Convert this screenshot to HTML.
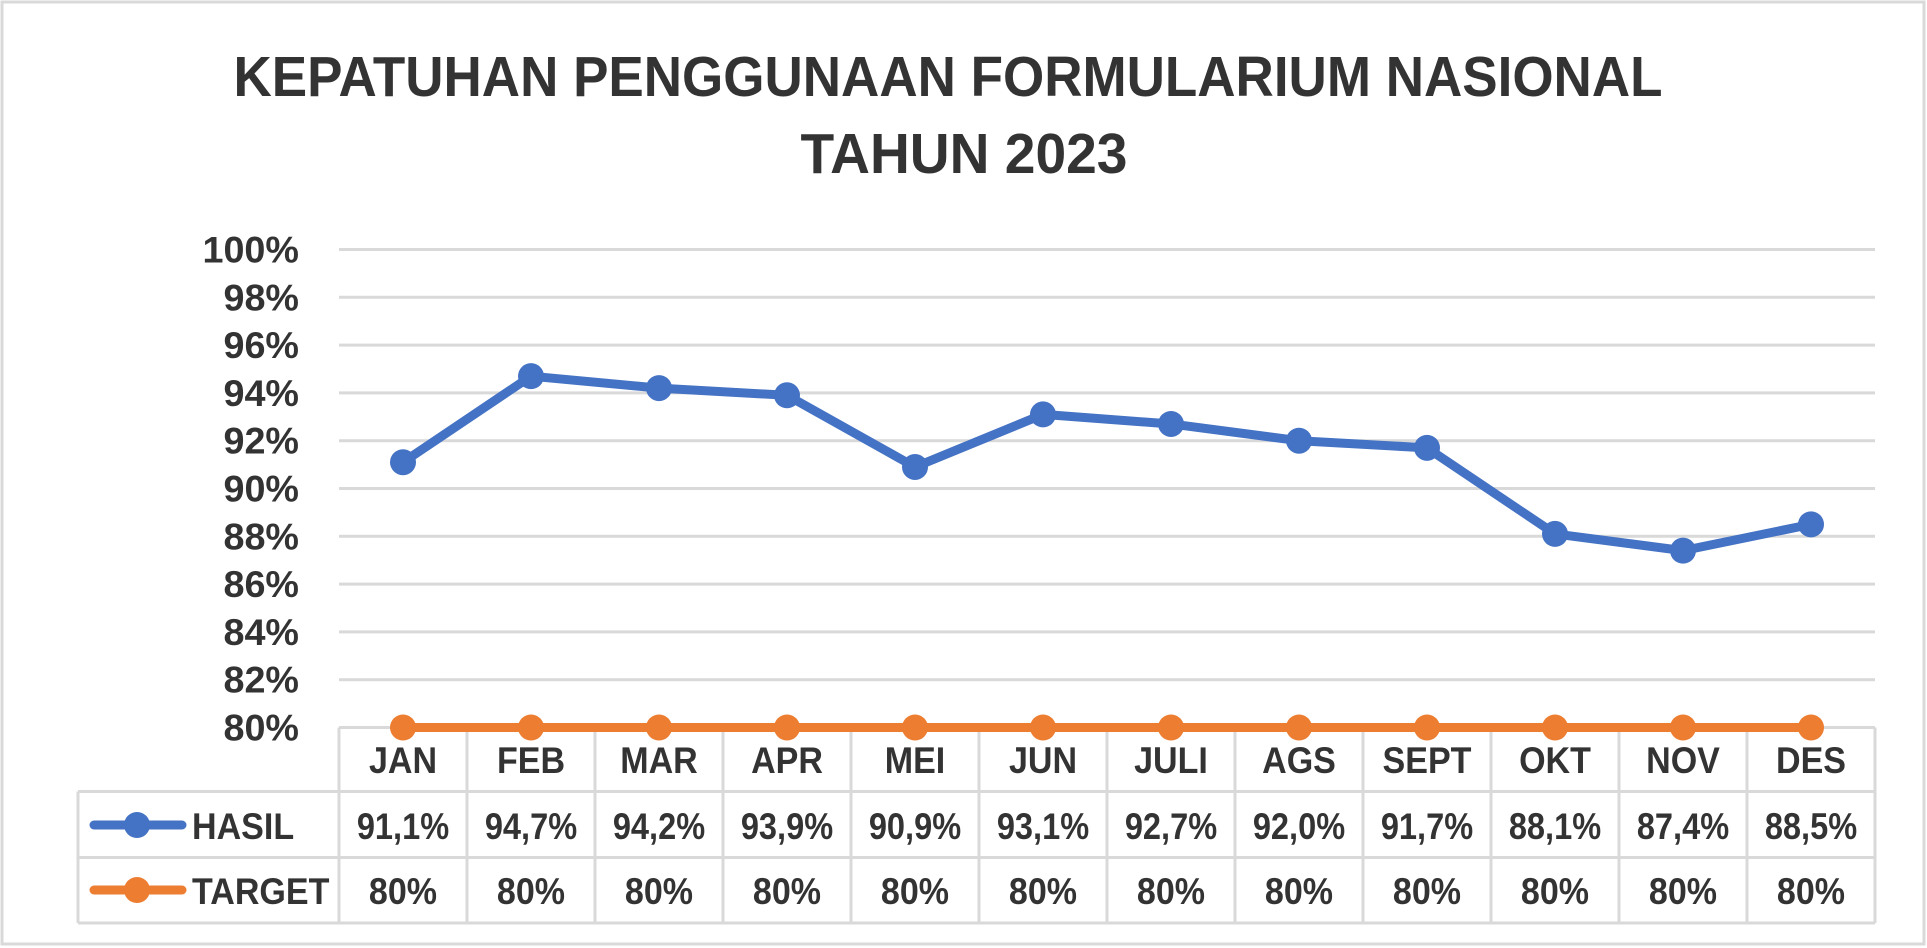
<!DOCTYPE html>
<html><head><meta charset="utf-8"><style>
html,body{margin:0;padding:0;background:#fff;}
svg{display:block;font-family:"Liberation Sans",sans-serif;font-weight:bold;}
</style></head><body>
<svg id="chart" width="1927" height="948" viewBox="0 0 1927 948">
<rect x="2" y="2" width="1922" height="942" fill="#fff" stroke="#d9d9d9" stroke-width="3"/>
<text x="948" y="96" text-anchor="middle" font-size="57" fill="#333" textLength="1429" lengthAdjust="spacingAndGlyphs">KEPATUHAN PENGGUNAAN FORMULARIUM NASIONAL</text>
<text x="964" y="173" text-anchor="middle" font-size="57" fill="#333" textLength="327" lengthAdjust="spacingAndGlyphs">TAHUN 2023</text>
<g id="grid"></g><g id="ylabels"></g><g id="table"></g><g id="series"></g>
</svg>
<script>
const categories=["JAN","FEB","MAR","APR","MEI","JUN","JULI","AGS","SEPT","OKT","NOV","DES"];
const hasil=[91.1,94.7,94.2,93.9,90.9,93.1,92.7,92.0,91.7,88.1,87.4,88.5];
const target=[80,80,80,80,80,80,80,80,80,80,80,80];
const hasilLabels=["91,1%","94,7%","94,2%","93,9%","90,9%","93,1%","92,7%","92,0%","91,7%","88,1%","87,4%","88,5%"];
const targetLabels=["80%","80%","80%","80%","80%","80%","80%","80%","80%","80%","80%","80%"];
const yTicks=[80,82,84,86,88,90,92,94,96,98,100];

const NS="http://www.w3.org/2000/svg";
const X0=339,X1=1875,Y0=727.5,Y1=249.5,YMIN=80,YMAX=100;
const colW=(X1-X0)/categories.length;
const xs=i=>X0+colW*(i+0.5);
const ys=v=>Y0-(v-YMIN)/(YMAX-YMIN)*(Y0-Y1);
function mk(tag,attrs,parent){const e=document.createElementNS(NS,tag);for(const k in attrs)e.setAttribute(k,attrs[k]);parent.appendChild(e);return e;}
function txt(parent,x,y,s,anchor,size,fill,scale){const t=mk('text',{x:x,y:y,'text-anchor':anchor,'font-size':size,fill:fill||'#333'},parent);t.textContent=s;const w=t.getComputedTextLength();t.setAttribute('textLength',w*(scale||0.88));t.setAttribute('lengthAdjust','spacingAndGlyphs');return t;}
const grid=document.getElementById('grid'),yl=document.getElementById('ylabels'),tb=document.getElementById('table'),se=document.getElementById('series');

yTicks.forEach(v=>{
 if(v>YMIN){const l=mk('line',{x1:X0,x2:X1,y1:ys(v),y2:ys(v),stroke:'#d9d9d9','stroke-width':3},grid);
 
 }
 const t=txt(yl,299,ys(v)+13,v+'%','end',37,'#333',1.02);
 
 
});

const R0=727.5,R1=791.5,R2=857.5,R3=923,LX=78;
const tl={stroke:'#d9d9d9','stroke-width':3};
[[X0,R0,X1,R0],[LX,R1,X1,R1],[LX,R2,X1,R2],[LX,R3,X1,R3],[LX,R1,LX,R3],[X1,R0,X1,R3]].forEach(c=>{const l=mk('line',Object.assign({x1:c[0],y1:c[1],x2:c[2],y2:c[3]},tl),tb);
 
 });
for(let i=0;i<categories.length;i++){const x=X0+colW*i;const l=mk('line',Object.assign({x1:x,y1:R0,x2:x,y2:R3},tl),tb);
 
 }
categories.forEach((c,i)=>{
 const a=txt(tb,xs(i),773,c,'middle',37,'#333',0.92);
 
 
 const b=txt(tb,xs(i),839,hasilLabels[i],'middle',37,'#333',0.88);
 
 
 const d=txt(tb,xs(i),904,targetLabels[i],'middle',37,'#333',0.92);
 
 
});
[['HASIL','#4472C4',825],['TARGET','#ED7D31',890]].forEach(k=>{
 const g=mk('g',{},tb);
 
 
 mk('line',{x1:94,x2:182,y1:k[2],y2:k[2],stroke:k[1],'stroke-width':9,'stroke-linecap':'round'},g);
 mk('circle',{cx:137,cy:k[2],r:13,fill:k[1]},g);
 txt(g,192,k[2]+14,k[0],'start',37,'#333',0.92);
});

function drawSeries(vals,color,name){
 const g=mk('g',{},se);
 
 
 const p=mk('polyline',{points:vals.map((v,i)=>xs(i)+','+ys(v)).join(' '),fill:'none',stroke:color,'stroke-width':9,'stroke-linejoin':'round'},g);
 
 
 vals.forEach((v,i)=>{const c=mk('circle',{cx:xs(i),cy:ys(v),r:13,fill:color},g);
 
 });
}
drawSeries(target,'#ED7D31','target');
drawSeries(hasil,'#4472C4','hasil');
</script>
</body></html>
